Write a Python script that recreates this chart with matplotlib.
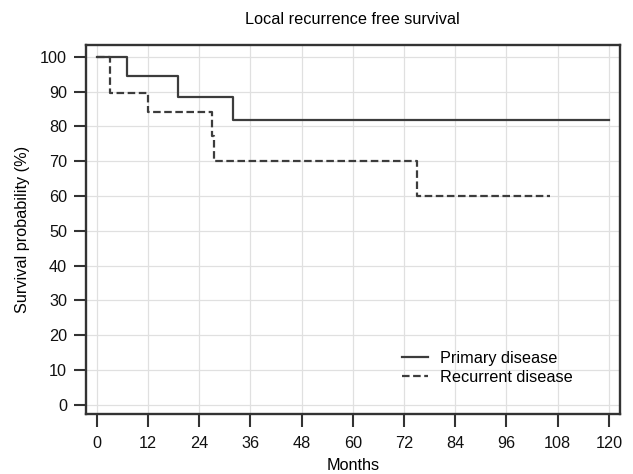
import matplotlib
matplotlib.use("Agg")
import matplotlib.pyplot as plt

plt.rcParams['font.family'] = ['Liberation Sans', 'DejaVu Sans']

# Kaplan-Meier step data (months, survival %)
primary_t = [0, 7.0, 19.1, 32.0, 120]
primary_s = [100, 94.4, 88.5, 81.8, 81.8]

recurrent_t = [0, 3.0, 12.1, 27.1, 27.5, 75.0, 106.2]
recurrent_s = [100, 89.5, 84.2, 77.3, 70.2, 60.1, 60.1]

x_ticks = [0, 12, 24, 36, 48, 60, 72, 84, 96, 108, 120]
y_ticks = [0, 10, 20, 30, 40, 50, 60, 70, 80, 90, 100]

FS = 11.7

fig = plt.figure(figsize=(6.33, 4.74), dpi=100)
ax = fig.add_axes([0.1354, 0.1266, 0.8441, 0.7784])

col = '#3c3c3c'
ax.step(primary_t, primary_s, where='post', color=col, lw=1.6, label='Primary disease')
ax.step(recurrent_t, recurrent_s, where='post', color=col, lw=1.6,
        linestyle=(0, (3.4, 1.6)), label='Recurrent disease')

ax.set_xlim(-2.58, 122.6)
ax.set_ylim(-2.67, 103.4)
ax.set_xticks(x_ticks)
ax.set_yticks(y_ticks)
ax.grid(True, color='#e0e0e0', lw=0.9)
ax.set_axisbelow(True)

for s in ax.spines.values():
    s.set_linewidth(1.7)
    s.set_color('#333333')

ax.tick_params(axis='both', direction='out', length=9, width=1.5, color='#333333',
               labelsize=FS, labelcolor='#111111')
ax.tick_params(axis='x', pad=7)
ax.tick_params(axis='y', pad=4.5)

ax.set_xlabel('Months', fontsize=FS, labelpad=5)
ax.set_ylabel('Survival probability (%)', fontsize=FS, labelpad=7)
ax.set_title('Local recurrence free survival', fontsize=FS, pad=15)

leg = ax.legend(loc='center left', bbox_to_anchor=(0.5914, 0.1247), frameon=False,
                fontsize=FS, handlelength=1.6, handletextpad=0.76, labelspacing=0.25,
                borderpad=0, borderaxespad=0)

fig.savefig('out.png', dpi=100)
